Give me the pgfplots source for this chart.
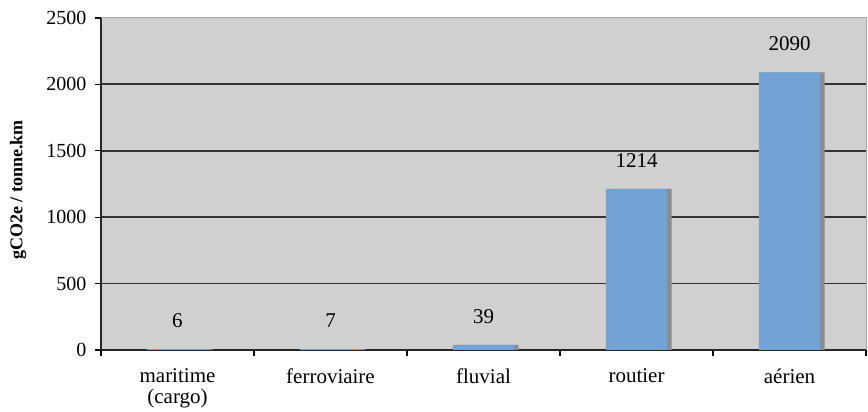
\documentclass[border=0pt]{standalone}
\usepackage{fontspec}
\setmainfont{Liberation Serif}
\usepackage{pgfplots}
\pgfplotsset{compat=1.18}

\definecolor{barblue}{RGB}{114,163,212}
\definecolor{plotgray}{RGB}{208,208,208}

\begin{document}
\begin{tikzpicture}
\begin{axis}[
  scale only axis,
  at={(0,0)}, anchor=south west,
  width=765pt, height=332pt,
  xmin=-0.5, xmax=4.5,
  ymin=0, ymax=2500,
  axis lines=left,
  axis line style={-, line width=1.6pt, black!85},
  axis background/.style={fill=plotgray, draw=black!35, line width=1pt},
  xtick={0,1,2,3,4},
  xticklabels={{maritime\\(cargo)},ferroviaire,fluvial,routier,a\'erien},
  xticklabel style={align=center, font=\fontsize{21}{21}\selectfont, yshift=-9pt},
  major x tick style={draw=none},
  minor xtick={-0.5,0.5,1.5,2.5,3.5,4.5},
  minor x tick style={line width=1.3pt, black},
  minor tick length=6pt,
  ytick={0,500,1000,1500,2000},
  extra y ticks={2500},
  extra y tick style={grid=none},
  ymajorgrids,
  grid style={line width=1.8pt, black!80},
  y tick style={line width=1.3pt, black},
  major tick length=6pt,
  tick align=outside,
  yticklabel style={font=\fontsize{20}{20}\selectfont, xshift=-5pt},
  /pgf/number format/1000 sep={},
  /pgf/number format/assume math mode=true,
  ylabel={\textbf{gCO2e / tonne.km}},
  every axis y label/.style={at={(axis description cs:0,0.5)}, xshift=-83pt, yshift=-6pt,
    rotate=90, anchor=center, font=\fontsize{18}{18}\selectfont},
  every axis plot/.append style={bar width=0.4},
]
% shadow
\addplot[ybar, fill=black!45, draw=none, bar shift=0.03, forget plot]
  coordinates {(0,6) (1,7) (2,39) (3,1214) (4,2090)};
\addplot[ybar, fill=barblue, draw=none, bar shift=0,
  nodes near coords,
  every node near coord/.append style={font=\fontsize{21}{21}\selectfont, yshift=18pt, black}]
  coordinates {(0,6) (1,7) (2,39) (3,1214) (4,2090)};
\end{axis}
\pgfresetboundingbox
\path[use as bounding box] (-101pt,-62pt) rectangle (767pt,350pt);
\end{tikzpicture}
\end{document}
